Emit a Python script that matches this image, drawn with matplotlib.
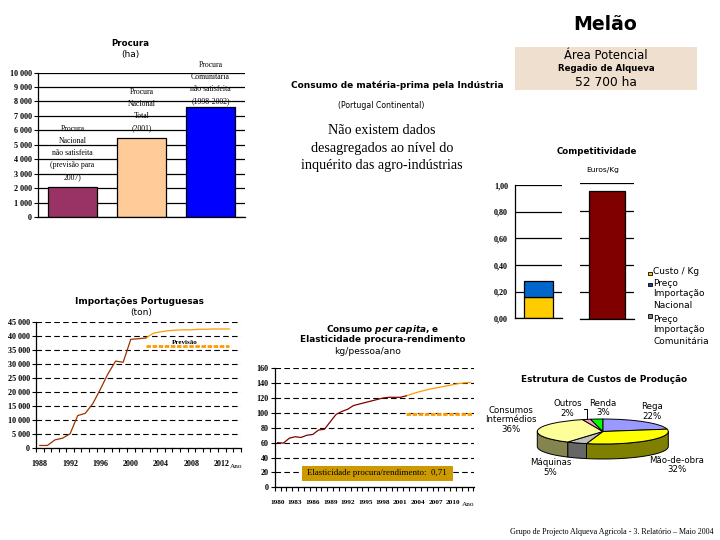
import numpy as np
import matplotlib
matplotlib.use("Agg")
import matplotlib.pyplot as plt
from matplotlib.patches import Rectangle

W, H = 720, 540
SANS = "DejaVu Sans"
SERIF = "Liberation Serif"

# Procura
procura_labels = ["Procura\nNacional\nnão satisfeita\n(previsão para\n2007)",
                  "Procura\nNacional\nTotal\n(2001)",
                  "Procura\nComunitária\nnão satisfeita\n(1998-2002)"]
procura_values = [2100, 5500, 7600]
procura_colors = ["#993366", "#FFCC99", "#0000FF"]

# Importações
imp_years = list(range(1988, 2003))
imp_values = [800, 800, 2800, 3400, 5000, 11500, 12300, 15800, 21000, 26500,
              31000, 30600, 38800, 39000, 39300]
imp_fc_years = list(range(2002, 2014))
imp_fc_values = [39300, 41000, 41500, 41900, 42100, 42200, 42200, 42400, 42400,
                 42500, 42500, 42500]
imp_prev_years = [2002, 2013]
imp_prev_values = [36300, 36300]

# Consumo per capita
cap_years = list(range(1980, 2003))
cap_values = [60, 59.5, 66, 68, 67, 70, 71, 77, 78, 88, 98, 102, 105, 110, 112,
              114, 116, 118, 120, 121, 121, 121, 123]
cap_fc_years = list(range(2002, 2014))
cap_fc_values = [123, 125.5, 128, 130, 132, 133.5, 135, 136.5, 138, 139.5, 140.5, 141]
cap_prev_years = [2002, 2013.5]
cap_prev_values = [98, 98]

# Competitividade
custo = 0.16
preco_nacional = 0.12
preco_comunitaria = 0.94

# Estrutura de custos
pie_values = [22, 32, 5, 36, 2, 3]
pie_top = ["#9999FF", "#FFFF00", "#C0C0C0", "#FFFF99", "#FF99CC", "#00FF00"]
pie_side = ["#4D4D80", "#808000", "#666666", "#84844F", "#804D66", "#008000"]

fig = plt.figure(figsize=(7.2, 5.4), dpi=100, facecolor="white")


def box(x0, y0, x1, y1):
    return fig.add_axes([x0 / W, 1 - y1 / H, (x1 - x0) / W, (y1 - y0) / H])


def T(x, y, s, size=6.2, family=SANS, weight="normal", ha="center", **kw):
    kw.setdefault("va", "center")
    return fig.text(x / W, 1 - y / H, s, fontsize=size, family=family,
                    fontweight=weight, ha=ha, **kw)


def style(ax, dashed):
    for s in ("top", "right"):
        ax.spines[s].set_visible(False)
    for s in ("left", "bottom"):
        ax.spines[s].set_linewidth(0.9)
    ax.set_axisbelow(True)
    if dashed:
        ax.grid(axis="y", color="black", lw=0.8, linestyle=(0, (5, 3)))
    else:
        ax.grid(axis="y", color="black", lw=0.9)
    ax.tick_params(axis="y", length=3, width=0.8, pad=1.5, labelsize=5.9)
    ax.tick_params(axis="x", length=3, width=0.8, pad=1.5, labelsize=5.9)
    for l in ax.get_yticklabels() + ax.get_xticklabels():
        l.set_family(SERIF)
        l.set_fontweight("bold")


def minor_labels(ax, size):
    ax.tick_params(axis="x", which="minor", length=0, pad=9, labelsize=size)
    for l in ax.get_xticklabels(minor=True):
        l.set_family(SERIF)
        l.set_fontweight("bold")


def fmt(v):
    return f"{v:,}".replace(",", " ")


# ---------- Procura
ax = box(38, 72.5, 245, 217)
ax.bar(range(3), procura_values, width=0.72, color=procura_colors, edgecolor="black", lw=0.9)
ax.set_xlim(-0.5, 2.5)
ax.set_ylim(0, 10000)
ticks = list(range(0, 10001, 1000))
ax.set_yticks(ticks, [fmt(v) for v in ticks])
ax.set_xticks([])
style(ax, False)
for i, (v, lab, off) in enumerate(zip(procura_values, procura_labels, (380, 380, 120))):
    ax.text(i, v + off, lab, ha="center", va="bottom", family=SERIF, fontsize=5.6,
            linespacing=1.68, clip_on=False)
T(130, 44, "Procura", weight="bold")
T(130, 55, "(ha)", size=6.5)

# ---------- Importações
ax = box(36, 322, 240.7, 447.7)
ax.plot(imp_fc_years, imp_fc_values, color="#FF9900", lw=0.9)
ax.plot(imp_prev_years, imp_prev_values, color="#FF9900", lw=2, linestyle=(0, (1.6, 0.6)))
ax.plot(imp_years, imp_values, color="#993300", lw=0.9)
ax.set_xlim(1987.5, 2014.5)
ax.set_ylim(0, 45000)
ticks = list(range(0, 45001, 5000))
ax.set_yticks(ticks, [fmt(v) for v in ticks])
ax.set_xticks(np.arange(1987.5, 2015))
ax.set_xticklabels([])
ax.set_xticks(list(range(1988, 2013, 4)), [str(y) for y in range(1988, 2013, 4)], minor=True)
style(ax, True)
minor_labels(ax, 5.8)
T(139, 302, "Importações Portuguesas", size=6.4, weight="bold")
T(141, 312, "(ton)", size=6.5)
T(185, 342, "Previsão", size=5, family=SERIF, weight="bold")
T(236, 467, "Ano", size=5.2, family=SERIF)

# ---------- Consumo per capita
ax = box(274.7, 368.3, 474, 487.3)
ax.plot(cap_fc_years, cap_fc_values, color="#FF9900", lw=0.9)
ax.plot(cap_prev_years, cap_prev_values, color="#FF9900", lw=2, linestyle=(0, (1.6, 0.6)))
ax.plot(cap_years, cap_values, color="#800000", lw=0.9)
ax.set_xlim(1979.5, 2013.6)
ax.set_ylim(0, 160)
ax.set_yticks(list(range(0, 161, 20)))
ax.set_xticks(np.arange(1979.5, 2014))
ax.set_xticklabels([])
ax.set_xticks(list(range(1980, 2011, 3)), [str(y) for y in range(1980, 2011, 3)], minor=True)
style(ax, True)
minor_labels(ax, 5.2)
T(383, 329, "Consumo $\\bfit{per\\ capita}$, e", size=6.4, weight="bold")
T(383, 340, "Elasticidade procura-rendimento", size=6.4, weight="bold")
T(368, 351, "kg/pessoa/ano", size=6.6)
T(468, 504, "Ano", size=5.2, family=SERIF)
fig.add_artist(Rectangle((301.7 / W, 1 - 480.7 / H), 151 / W, 15 / H, transform=fig.transFigure,
                         facecolor="#CC9900", edgecolor="none", zorder=5))
T(377, 473, "Elasticidade procura/rendimento:  0,71", size=6.4, family=SERIF, zorder=6)

# ---------- Competitividade
ax = box(515, 185.3, 562, 318.3)
ax.bar([0], [custo], width=0.62, color="#FFCC00", edgecolor="black", lw=0.9)
ax.bar([0], [preco_nacional], bottom=[custo], width=0.62, color="#0066CC", edgecolor="black", lw=0.9)
ax.set_xlim(-0.5, 0.5)
ax.set_ylim(0, 1)
vals = [0, 0.2, 0.4, 0.6, 0.8, 1.0]
ax.set_yticks(vals, [f"{v:.2f}".replace(".", ",") for v in vals])
ax.set_xticks([])
style(ax, False)
ax.tick_params(axis="y", length=0, pad=5)

ax = box(580, 183.3, 634, 319.3)
ax.bar([0], [preco_comunitaria], width=0.65, color="#800000", edgecolor="black", lw=0.9)
ax.set_xlim(-0.5, 0.5)
ax.set_ylim(0, 1)
ax.set_yticks(vals, [""] * len(vals))
ax.set_xticks([])
style(ax, False)
ax.spines["left"].set_visible(False)
ax.tick_params(axis="y", length=0)

T(596.5, 152, "Competitividade", weight="bold")
T(603, 170, "Euros/Kg", size=5.4)

for y, c in [(273.3, "#FFCC00"), (284.3, "#333399"), (316, "#808080")]:
    fig.add_artist(Rectangle((648.3 / W, 1 - (y + 1.7) / H), 3.4 / W, 3.4 / H, transform=fig.transFigure,
                             facecolor=c, edgecolor="black", lw=0.6))
for x, y, s in [(653, 272, "Custo / Kg"), (653, 283, "Preço"), (653, 294, "Importação"),
                (653, 305, "Nacional"), (653, 319, "Preço"), (653, 330, "Importação"),
                (653, 341, "Comunitária")]:
    T(x, y, s, size=6.5, ha="left")

# ---------- Pie
ax = box(537.3, 419, 668.3, 459)
ax.pie(pie_values, colors=pie_top, startangle=90, counterclock=False, radius=1,
       wedgeprops=dict(edgecolor="black", lw=0.7))
ax.set_aspect("auto")
ax.set_xlim(-1, 1)
ax.set_ylim(-2.2, 1)
depth = 1.2
edges = 90 - np.cumsum([0] + pie_values) * 3.6
for k in range(len(pie_values)):
    a, b = edges[k + 1], edges[k]
    a, b = max(a, -180), min(b, 0)
    if b <= a:
        continue
    t = np.radians(np.linspace(a, b, 40))
    xs = np.r_[np.cos(t), np.cos(t)[::-1]]
    ys = np.r_[np.sin(t), np.sin(t)[::-1] - depth]
    ax.fill(xs, ys, facecolor=pie_side[k], edgecolor="black", lw=0.7, zorder=0, clip_on=False)
for c in ax.patches:
    c.set_clip_on(False)

T(604, 380, "Estrutura de Custos de Produção", size=6.4, weight="bold")
for x, y, s in [(511, 420, "Consumos\nIntermédios\n36%"), (567.7, 408.5, "Outros\n2%"),
                (603, 408, "Renda\n3%"), (652, 411.5, "Rega\n22%"),
                (677, 465, "Mão-de-obra\n32%"), (550.7, 467.5, "Máquinas\n5%")]:
    T(x, y, s, size=6.2, linespacing=1.1)
fig.add_artist(plt.Line2D([584.3 / W, 586.7 / W, 586.7 / W],
                          [1 - 409 / H, 1 - 409 / H, 1 - 419 / H],
                          color="black", lw=0.7, transform=fig.transFigure))

# ---------- Headers
T(605, 24, "Melão", size=13.6, weight="bold")
fig.add_artist(Rectangle((515 / W, 1 - 90 / H), 182 / W, 43 / H, transform=fig.transFigure,
                         facecolor="#EEDFCF", edgecolor="none"))
T(606, 55.5, "Área Potencial", size=8.4)
T(606, 68.5, "Regadio de Alqueva", size=6.2, weight="bold")
T(606, 83, "52 700 ha", size=8.8)

T(397.5, 85, "Consumo de matéria-prima pela Indústria", size=6.45, weight="bold")
T(381, 106, "(Portugal Continental)", size=5.6)
T(382, 130, "Não existem dados", size=10.2, family=SERIF)
T(382, 148, "desagregados ao nível do", size=10.2, family=SERIF)
T(382, 165, "inquérito das agro-indústrias", size=10.2, family=SERIF)

T(612, 532, "Grupo de Projecto Alqueva Agricola - 3. Relatório – Maio 2004", size=5.8, family=SERIF)

fig.savefig("out.png", dpi=100)
